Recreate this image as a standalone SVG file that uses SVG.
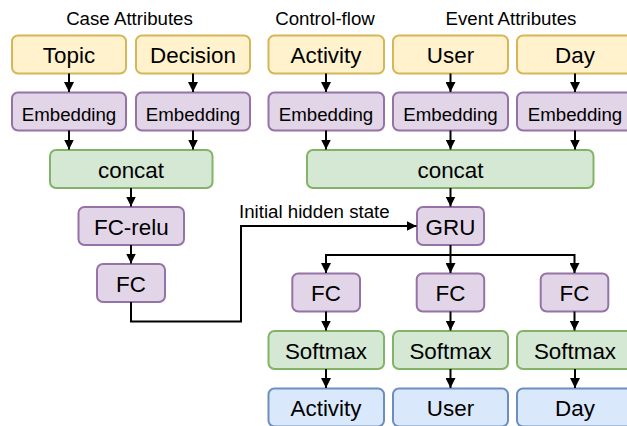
<svg xmlns="http://www.w3.org/2000/svg" width="627" height="426" viewBox="0 0 627 426">
  <style>
    .box { stroke-width: 2; }
    .yellow { fill: #fff2cc; stroke: #d6b656; }
    .purple { fill: #e1d5e7; stroke: #9673a6; }
    .green { fill: #d5e8d4; stroke: #82b366; }
    .blue { fill: #dae8fc; stroke: #6c8ebf; }
    text { font-family: "Liberation Sans", Arial, Helvetica, sans-serif; fill: #000; text-anchor: middle; }
    .lg { font-size: 22.4px; }
    .sm { font-size: 18.7px; }
    .hdr { font-size: 18.7px; }
    .edge { fill: none; stroke: #000; stroke-width: 2; }
  </style>
  <defs>
    <marker id="arrow" markerUnits="userSpaceOnUse" markerWidth="10" markerHeight="10" viewBox="0 0 10 10" refX="10" refY="5" orient="auto">
      <path d="M0,0 L10,5 L0,10 z" fill="#000"/>
    </marker>
  </defs>

  <rect width="627" height="426" fill="#ffffff"/>

  <!-- section headings -->
  <text class="hdr" x="129.5" y="25">Case Attributes</text>
  <text class="hdr" x="325" y="25">Control-flow</text>
  <text class="hdr" x="511" y="25">Event Attributes</text>

  <!-- inputs -->
  <g id="in-topic"><rect class="box yellow" x="12" y="35.5" width="114" height="38" rx="6"/><text class="lg" x="69" y="63">Topic</text></g>
  <g id="in-decision"><rect class="box yellow" x="136" y="35.5" width="114" height="38" rx="6"/><text class="lg" x="193" y="63">Decision</text></g>
  <g id="in-activity"><rect class="box yellow" x="268.5" y="35.5" width="115.5" height="38" rx="6"/><text class="lg" x="326" y="63">Activity</text></g>
  <g id="in-user"><rect class="box yellow" x="393" y="35.5" width="115" height="38" rx="6"/><text class="lg" x="450.5" y="63">User</text></g>
  <g id="in-day"><rect class="box yellow" x="517" y="35.5" width="116" height="38" rx="6"/><text class="lg" x="575" y="63">Day</text></g>

  <!-- embeddings -->
  <g id="emb-topic"><rect class="box purple" x="12" y="92.5" width="114" height="38" rx="6"/><text class="sm" x="69" y="120.5">Embedding</text></g>
  <g id="emb-decision"><rect class="box purple" x="136" y="92.5" width="114" height="38" rx="6"/><text class="sm" x="193" y="120.5">Embedding</text></g>
  <g id="emb-activity"><rect class="box purple" x="268.5" y="92.5" width="115.5" height="38" rx="6"/><text class="sm" x="326" y="120.5">Embedding</text></g>
  <g id="emb-user"><rect class="box purple" x="393" y="92.5" width="115" height="38" rx="6"/><text class="sm" x="450.5" y="120.5">Embedding</text></g>
  <g id="emb-day"><rect class="box purple" x="517" y="92.5" width="116" height="38" rx="6"/><text class="sm" x="575" y="120.5">Embedding</text></g>

  <!-- concatenations -->
  <g id="concat-case"><rect class="box green" x="50" y="150" width="162.5" height="38" rx="6"/><text class="lg" x="131" y="177.5">concat</text></g>
  <g id="concat-event"><rect class="box green" x="307" y="150" width="286.5" height="38" rx="6"/><text class="lg" x="450.5" y="177.5">concat</text></g>

  <!-- case branch -->
  <g id="fc-relu"><rect class="box purple" x="78.5" y="207" width="105.5" height="38" rx="6"/><text class="lg" x="131.3" y="234.5">FC-relu</text></g>
  <g id="fc-case"><rect class="box purple" x="97" y="264" width="68" height="38" rx="6"/><text class="lg" x="131" y="291.5">FC</text></g>

  <!-- recurrent core -->
  <g id="gru"><rect class="box purple" x="417" y="207" width="67" height="38" rx="6"/><text class="lg" x="450.5" y="234.5">GRU</text></g>

  <!-- heads -->
  <g id="fc-activity"><rect class="box purple" x="292.3" y="273.5" width="67.7" height="38" rx="6"/><text class="lg" x="326" y="301">FC</text></g>
  <g id="fc-user"><rect class="box purple" x="416.7" y="273.5" width="67.5" height="38" rx="6"/><text class="lg" x="450.5" y="301">FC</text></g>
  <g id="fc-day"><rect class="box purple" x="540.7" y="273.5" width="67.6" height="38" rx="6"/><text class="lg" x="574.5" y="301">FC</text></g>

  <g id="sm-activity"><rect class="box green" x="268.5" y="331" width="115.5" height="38" rx="6"/><text class="lg" x="326" y="358.5">Softmax</text></g>
  <g id="sm-user"><rect class="box green" x="393" y="331" width="115" height="38" rx="6"/><text class="lg" x="450.5" y="358.5">Softmax</text></g>
  <g id="sm-day"><rect class="box green" x="517" y="331" width="116" height="38" rx="6"/><text class="lg" x="575" y="358.5">Softmax</text></g>

  <g id="out-activity"><rect class="box blue" x="268.5" y="388.5" width="115.5" height="38" rx="6"/><text class="lg" x="326" y="416">Activity</text></g>
  <g id="out-user"><rect class="box blue" x="393" y="388.5" width="115" height="38" rx="6"/><text class="lg" x="450.5" y="416">User</text></g>
  <g id="out-day"><rect class="box blue" x="517" y="388.5" width="116" height="38" rx="6"/><text class="lg" x="575" y="416">Day</text></g>

  <!-- connectors -->
  <g id="connectors">
    <path class="edge" d="M69,73.5 V92" marker-end="url(#arrow)"/>
    <path class="edge" d="M193,73.5 V92" marker-end="url(#arrow)"/>
    <path class="edge" d="M326,73.5 V92" marker-end="url(#arrow)"/>
    <path class="edge" d="M450.5,73.5 V92" marker-end="url(#arrow)"/>
    <path class="edge" d="M575,73.5 V92" marker-end="url(#arrow)"/>

    <path class="edge" d="M69,130.5 V149.5" marker-end="url(#arrow)"/>
    <path class="edge" d="M193,130.5 V149.5" marker-end="url(#arrow)"/>
    <path class="edge" d="M326,130.5 V149.5" marker-end="url(#arrow)"/>
    <path class="edge" d="M450.5,130.5 V149.5" marker-end="url(#arrow)"/>
    <path class="edge" d="M575,130.5 V149.5" marker-end="url(#arrow)"/>

    <path class="edge" d="M131,188 V206.5" marker-end="url(#arrow)"/>
    <path class="edge" d="M131,245 V263.5" marker-end="url(#arrow)"/>
    <path class="edge" d="M450.5,188 V206.5" marker-end="url(#arrow)"/>

    <path class="edge" d="M131,302 V321.5 H241 V226 H416.5" marker-end="url(#arrow)"/>

    <path class="edge" d="M450.5,245 V255 H326 V273" marker-end="url(#arrow)"/>
    <path class="edge" d="M450.5,255 V273" marker-end="url(#arrow)"/>
    <path class="edge" d="M450.5,255 H574.5 V273" marker-end="url(#arrow)"/>

    <path class="edge" d="M326,311.5 V330.5" marker-end="url(#arrow)"/>
    <path class="edge" d="M450.5,311.5 V330.5" marker-end="url(#arrow)"/>
    <path class="edge" d="M574.5,311.5 V330.5" marker-end="url(#arrow)"/>

    <path class="edge" d="M326,369 V388" marker-end="url(#arrow)"/>
    <path class="edge" d="M450.5,369 V388" marker-end="url(#arrow)"/>
    <path class="edge" d="M575,369 V388" marker-end="url(#arrow)"/>
  </g>
  <text class="sm" x="239" y="218" style="text-anchor:start">Initial hidden state</text>
</svg>
